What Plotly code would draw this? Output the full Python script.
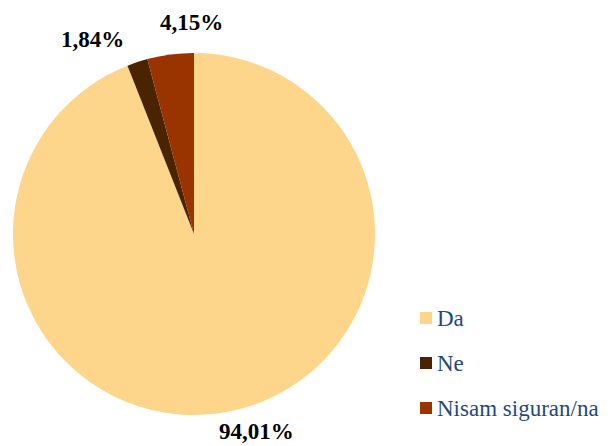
import plotly.graph_objects as go

labels = ["Da", "Ne", "Nisam siguran/na"]
values = [94.01, 1.84, 4.15]
colors = ["#FDD68B", "#4A2400", "#993300"]
value_texts = [f"{v:.2f}".replace(".", ",") + "%" for v in values]

SERIF = "Liberation Serif, Times New Roman, Tinos, serif"
W, H = 608, 446
fig = go.Figure()
fig.add_trace(go.Pie(
    labels=labels, values=values, sort=False, direction="clockwise", rotation=0,
    marker=dict(colors=colors, line=dict(width=0)),
    textinfo="none", showlegend=False, hoverinfo="label+percent",
    domain=dict(x=[13 / W, 375 / W], y=[1 - 415 / H, 1 - 53 / H]),
))

# data labels (Excel-style placement)
label_pos = [(256, 431), (92, 39), (191, 22)]
for txt, (lx, ly) in zip(value_texts, label_pos):
    fig.add_annotation(text=txt, xref="paper", yref="paper",
                       x=lx / W, y=1 - ly / H, xanchor="center", yanchor="middle",
                       showarrow=False,
                       font=dict(family=SERIF, size=23, color="black", weight="bold"))

# legend drawn as squares + text, positions derived from item index
x0, y0, step = 426, 318, 45
for i, (lab, col) in enumerate(zip(labels, colors)):
    cy = y0 + i * step
    fig.add_shape(type="rect", xref="paper", yref="paper",
                  x0=(x0 - 6) / W, x1=(x0 + 6) / W,
                  y0=1 - (cy + 6) / H, y1=1 - (cy - 6) / H,
                  fillcolor=col, line=dict(width=0))
    fig.add_annotation(text=lab, xref="paper", yref="paper",
                       x=(x0 + 9) / W, y=1 - cy / H, xanchor="left", yanchor="middle",
                       showarrow=False,
                       font=dict(family=SERIF, size=23, color="#1F497D"))

fig.update_layout(
    width=W, height=H, margin=dict(l=0, r=0, t=0, b=0),
    paper_bgcolor="white", plot_bgcolor="white", separators=",.",
)
fig.write_html("out.html", config={"displayModeBar": False},
               post_script="document.body.style.margin='0';document.body.style.overflow='hidden';")
